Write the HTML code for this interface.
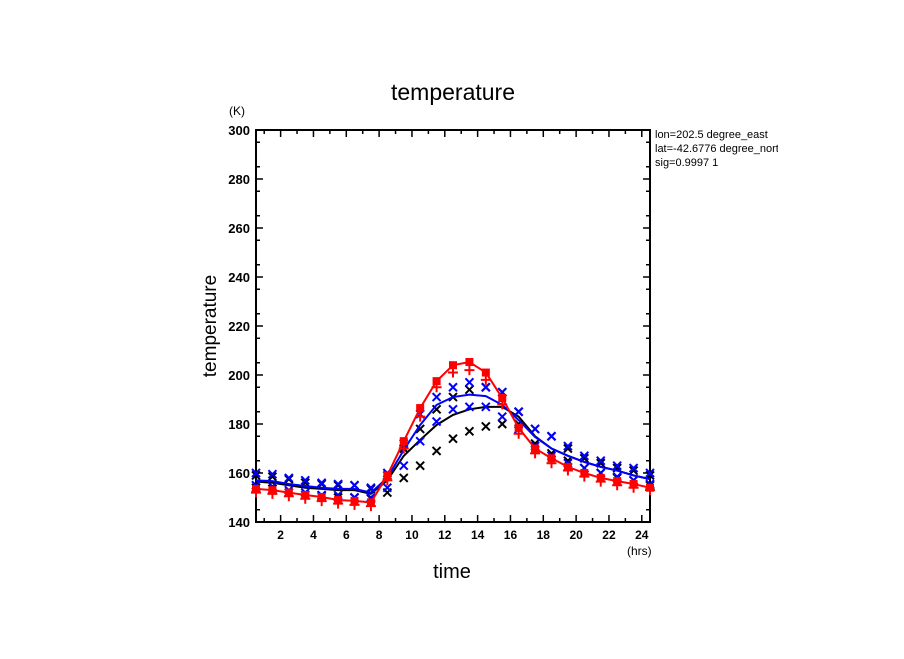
<!DOCTYPE html>
<html><head><meta charset="utf-8"><style>
body{margin:0;background:#fff}
svg text{font-family:"Liberation Sans",sans-serif;fill:#000}
</style></head><body>
<svg id="c" width="904" height="654" viewBox="0 0 904 654" xmlns="http://www.w3.org/2000/svg">
<defs><clipPath id="clipR"><rect x="0" y="0" width="778" height="654"/></clipPath></defs>
<text x="453" y="100" font-size="23" text-anchor="middle">temperature</text>
<text x="229" y="115" font-size="12">(K)</text>
<text x="216" y="326" font-size="19" text-anchor="middle" transform="rotate(-90 216 326)">temperature</text>
<text x="452" y="578" font-size="20" text-anchor="middle">time</text>
<text x="627" y="555" font-size="12">(hrs)</text>
<g clip-path="url(#clipR)" font-size="11">
<text x="655" y="138">lon=202.5 degree_east</text>
<text x="655" y="152">lat=-42.6776 degree_north</text>
<text x="655" y="166">sig=0.9997 1</text>
</g>
<g id="axes"></g>
<g id="marks"></g>
</svg>
<script>
const hours=[0.5,1.5,2.5,3.5,4.5,5.5,6.5,7.5,8.5,9.5,10.5,11.5,12.5,13.5,14.5,15.5,16.5,17.5,18.5,19.5,20.5,21.5,22.5,23.5,24.5];
const redMean=[153.5,153,152,151,150.2,149,148.6,148,159,173,186.5,197.5,204,205.3,201,190.6,178.4,170,166,162.5,160,158,156.7,155.5,154];
const blueMean=[157,156.7,155.5,154.7,154,153.5,153.5,152,158,169.4,179.6,187.8,191,192,191.4,187.8,181.6,174.7,170,167,164.5,162.5,161,159,157.5];
const blackMean=[156.5,156,155,154,153.5,153,153,151.5,157,167,173.5,179.6,183.7,186,187,187,183,175,170,167,164.5,162.5,161,159,157.5];
const redPlus=[152,151.5,150.5,149.5,148.5,147.5,147,146.5,157,170,183,195,201,202,198,188,176,168,164,161,158.5,156.5,155,154,153];
const blueHi=[160,159.5,158,157,156,155.5,155,154,160,172,184,191,195,197,195,193,185,178,175,171,167,165,163,162,160];
const blueLo=[155,154.5,153,152,151,151,150,150,154,163,173,181,186,187,187,183,178,171,167,164,162,160,158.5,157,155.5];
const blackHi=[159,158.5,157.5,156,155.5,155,155,153.5,159,170,178,186,191,194,195,193,185,178,175,170,166,164,162,161,159];
const blackLo=[154,153.5,152,151,150.5,150,150,149.5,152,158,163,169,174,177,179,180,180,172,168,165,162,160,158,157,155];
const yTicks=[140,160,180,200,220,240,260,280,300];
const xTicks=[2,4,6,8,10,12,14,16,18,20,22,24];
const X0=256,X1=650,Y0=522,Y1=130;
const sx=t=>X0+(t-0.5)*(X1-X0)/24;
const sy=v=>Y0-(v-140)*(Y0-Y1)/160;
const NS="http://www.w3.org/2000/svg";
const axes=document.getElementById('axes'),marks=document.getElementById('marks');
function mk(tag,attrs,parent){const e=document.createElementNS(NS,tag);for(const k in attrs)e.setAttribute(k,attrs[k]);parent.appendChild(e);return e;}
const frame=mk('rect',{x:X0,y:Y1,width:X1-X0,height:Y0-Y1,fill:'none',stroke:'#000','stroke-width':2},axes);


for(let v=140;v<=300;v+=5){
 const major=(v%20===0);const L=major?7:4;const m=(v%10===5)||major;if(!m)continue;
 mk('line',{x1:X0,x2:X0+L,y1:sy(v),y2:sy(v),stroke:'#000','stroke-width':1.5},axes);
 mk('line',{x1:X1,x2:X1-L,y1:sy(v),y2:sy(v),stroke:'#000','stroke-width':1.5},axes);
}
yTicks.forEach(v=>{const t=mk('text',{x:X0-6,y:sy(v)+5,'font-size':13,'font-weight':'bold','text-anchor':'end'},axes);t.textContent=v;
 
 });
for(let h=1;h<=24;h++){const L=(h%2===0)?7:4;
 mk('line',{x1:sx(h),x2:sx(h),y1:Y0,y2:Y0-L,stroke:'#000','stroke-width':1.5},axes);
 mk('line',{x1:sx(h),x2:sx(h),y1:Y1,y2:Y1+L,stroke:'#000','stroke-width':1.5},axes);}
xTicks.forEach(h=>{const t=mk('text',{x:sx(h),y:Y0+17,'font-size':12,'font-weight':'bold','text-anchor':'middle'},axes);t.textContent=h;
 
 });
function xmark(arr,col,name){arr.forEach((v,i)=>{const x=sx(hours[i]),y=sy(v);
 const p=mk('path',{d:`M${x-4} ${y-4}L${x+4} ${y+4}M${x-4} ${y+4}L${x+4} ${y-4}`,stroke:col,'stroke-width':2},marks);
 
 });}
function plus(arr,col,name){arr.forEach((v,i)=>{const x=sx(hours[i]),y=sy(v);
 const p=mk('path',{d:`M${x-5} ${y}L${x+5} ${y}M${x} ${y-5}L${x} ${y+5}`,stroke:col,'stroke-width':2},marks);
 
 });}
function line(arr,col,name){const l=mk('polyline',{points:arr.map((v,i)=>sx(hours[i])+','+sy(v)).join(' '),fill:'none',stroke:col,'stroke-width':2},marks);
 
 }
xmark(blackHi,'#000','black-member-marker');xmark(blackLo,'#000','black-member-marker');
line(blackMean,'#000','black-mean-line');
xmark(blueHi,'#0000ff','blue-member-marker');xmark(blueLo,'#0000ff','blue-member-marker');
line(blueMean,'#0000ff','blue-mean-line');
plus(redPlus,'#ff0000','red-member-marker');
line(redMean,'#ff0000','red-mean-line');
redMean.forEach((v,i)=>{const r=mk('rect',{x:sx(hours[i])-4,y:sy(v)-4,width:8,height:8,fill:'#ff0000'},marks);
 
 });
</script>
</body></html>
